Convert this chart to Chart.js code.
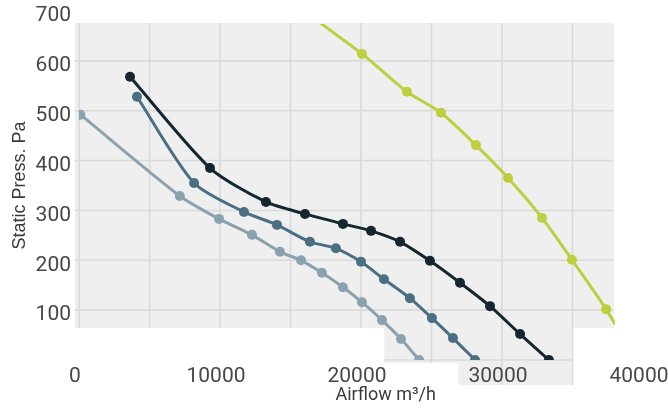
<!DOCTYPE html>
<html>
<head>
<meta charset="utf-8">
<script src="https://cdn.jsdelivr.net/npm/chart.js@4"></script>
<style>
  html, body { margin: 0; padding: 0; background: #fff; }
</style>
</head>
<body>
<canvas id="fanChart" width="668" height="410"></canvas>
<script>
// airflow (m3/h) and static pressure (Pa) per curve
const flowLight = [100, 7150, 9930, 12270, 14250, 15750, 17230, 18720, 20070, 21490, 22840, 24120];
const pressLight = [492, 329, 283, 251, 217, 200, 175, 146, 116, 80, 42, 0];

const flowMid = [4110, 8160, 11700, 14040, 16380, 18220, 20000, 21630, 23470, 25030, 26520, 28090];
const pressMid = [528, 355, 297, 271, 237, 224, 197, 162, 124, 84, 44, 0];

const flowDark = [3620, 9290, 13260, 16030, 18720, 20710, 22770, 24890, 27020, 29150, 31280, 33330];
const pressDark = [568, 385, 317, 293, 273, 259, 237, 199, 155, 108, 52, 0];

const flowLime = [14000, 20070, 23260, 25670, 28150, 30430, 32840, 34960, 37380, 39500];
const pressLime = [740, 614, 538, 496, 431, 365, 285, 201, 102, 0];

const xLabels = [0, 10000, 20000, 30000, 40000];
const yLabels = [100, 200, 300, 400, 500, 600, 700];
const xTitle = 'Airflow m³/h';

// grey backdrop pieces, in axis units
const bgZones = [
  { x0: -300, x1: 37950, y0: 64, y1: 676 },
  { x0: 21650, x1: 35050, y0: -6, y1: 65 },
  { x0: 26900, x1: 35050, y0: -50, y1: -5 }
];

const toPoints = (xs, ys) => xs.map((v, i) => ({ x: v, y: ys[i] }));

const backdrop = {
  id: 'backdrop',
  beforeDraw(chart) {
    const { ctx, scales: { x, y } } = chart;
    ctx.save();
    ctx.beginPath();
    bgZones.forEach(z => {
      const x0 = x.getPixelForValue(z.x0), x1 = x.getPixelForValue(z.x1);
      const y0 = y.getPixelForValue(z.y1), y1 = y.getPixelForValue(z.y0);
      ctx.rect(x0, y0, x1 - x0, y1 - y0);
    });
    ctx.fillStyle = '#efefef';
    ctx.fill();
    ctx.clip();
    ctx.strokeStyle = '#dadada';
    ctx.lineWidth = 1.6;
    ctx.beginPath();
    x.ticks.forEach(t => {
      const px = x.getPixelForValue(t.value);
      ctx.moveTo(px, 0); ctx.lineTo(px, chart.height);
    });
    y.ticks.forEach(t => {
      const py = y.getPixelForValue(t.value);
      ctx.moveTo(0, py); ctx.lineTo(chart.width, py);
    });
    ctx.stroke();
    ctx.restore();
  },
  afterDraw(chart) {
    // x axis title sits a bit right of centre in the original
    const { ctx, scales: { x } } = chart;
    ctx.save();
    ctx.font = '18px Roboto';
    ctx.fillStyle = '#3a3a3a';
    ctx.textAlign = 'center';
    ctx.textBaseline = 'middle';
    ctx.fillText(xTitle, x.getPixelForValue(21750), 395);
    ctx.restore();
  }
};

function series(xs, ys, color, extra) {
  return Object.assign({
    data: toPoints(xs, ys),
    borderColor: color,
    backgroundColor: color,
    borderWidth: 3,
    pointRadius: 5,
    pointHoverRadius: 5,
    pointBorderWidth: 0,
    tension: 0.25,
    showLine: true
  }, extra || {});
}

const ctx = document.getElementById('fanChart').getContext('2d');
new Chart(ctx, {
  type: 'scatter',
  data: {
    datasets: [
      series(flowLight, pressLight, '#8ba2ae'),
      series(flowMid, pressMid, '#4a6f82'),
      series(flowDark, pressDark, '#14262f'),
      series(flowLime, pressLime, '#bccf3e', { clip: { left: 0, top: -13, right: -28, bottom: -35 } })
    ]
  },
  options: {
    responsive: false,
    animation: false,
    devicePixelRatio: 1,
    layout: { padding: { top: 11, right: 25, bottom: 0, left: 0 } },
    plugins: { legend: { display: false }, tooltip: { enabled: false } },
    scales: {
      x: {
        type: 'linear',
        min: 0,
        max: 40000,
        grid: { display: false, drawTicks: false },
        border: { display: false },
        ticks: {
          stepSize: 5000,
          padding: 4,
          labelOffset: -4,
          maxRotation: 0,
          autoSkip: false,
          color: '#474747',
          font: { family: 'Roboto', size: 21 },
          callback: v => xLabels.includes(v) ? String(v) : ''
        },
        afterFit(scale) {
          scale.height = 50;
          scale.paddingLeft = 0;
          scale.paddingRight = 0;
        }
      },
      y: {
        min: 0,
        max: 700,
        grid: { display: false, drawTicks: false },
        border: { display: false },
        ticks: {
          stepSize: 100,
          padding: 8,
          labelOffset: 5,
          color: '#474747',
          font: { family: 'Roboto', size: 21 },
          callback: v => yLabels.includes(v) ? String(v) : ''
        },
        title: {
          display: true,
          text: 'Static Press. Pa',
          color: '#3a3a3a',
          font: { family: 'Liberation Sans', size: 18 },
          padding: { top: 9, bottom: 0 }
        },
        afterFit(scale) {
          scale.width = 79;
          scale.paddingTop = 0;
          scale.paddingBottom = 0;
        }
      }
    }
  },
  plugins: [backdrop]
});
</script>
</body>
</html>
